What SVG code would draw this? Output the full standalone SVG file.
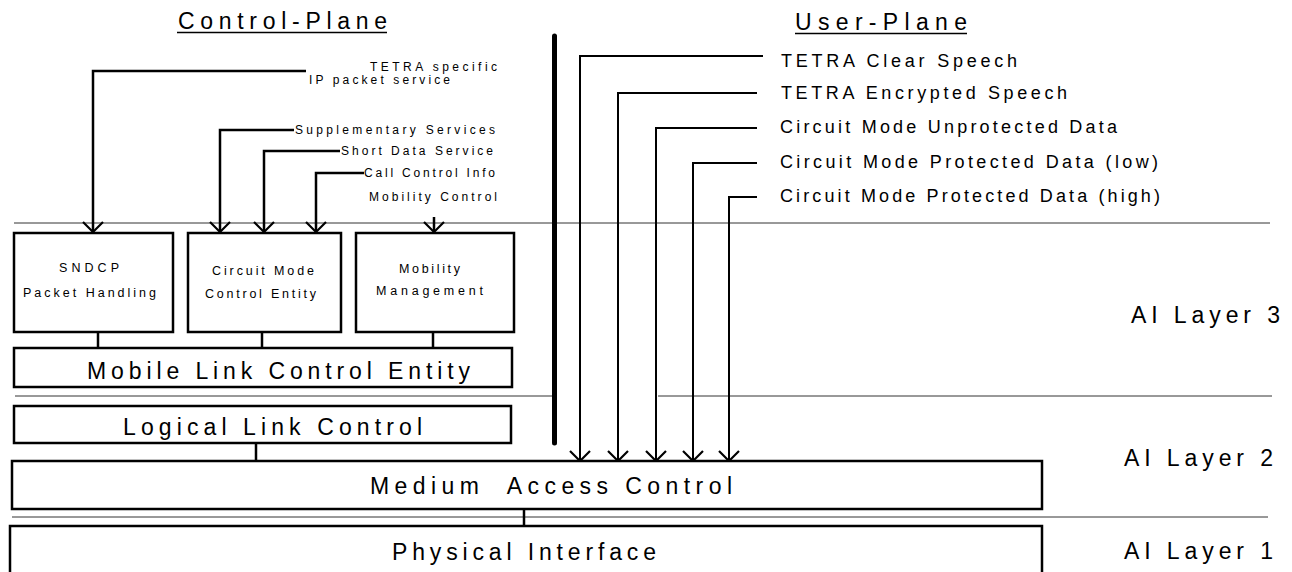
<svg xmlns="http://www.w3.org/2000/svg" width="1292" height="572" viewBox="0 0 1292 572">
<style>
  text { font-family: "Liberation Sans", Arial, sans-serif; fill: #000; }
  .big { font-size: 23px; }
  .mid { font-size: 18px; }
  .sm { font-size: 12px; }
  .bx { font-size: 12.5px; }
  .box { fill: #fff; stroke: #000; stroke-width: 2.5; }
  .layer { stroke: #333; stroke-width: 1; fill: none; }
  .cp { stroke: #000; stroke-width: 2.5; fill: none; }
  .up { stroke: #000; stroke-width: 2; fill: none; }
  .link { stroke: #000; stroke-width: 2.5; fill: none; }
</style>
<defs>
  <marker id="arr" markerUnits="userSpaceOnUse" markerWidth="14" markerHeight="24" viewBox="-12 -12 14 24" refX="0" refY="0" orient="auto">
    <path d="M-10,-10 L0,0 L-10,10" fill="none" stroke="#000" stroke-width="2.2"/>
  </marker>
</defs>
<rect width="1292" height="572" fill="#fff"/>

<g id="layer-lines">
  <line class="layer" x1="14" y1="223" x2="1270" y2="223"/>
  <line class="layer" x1="15" y1="396" x2="553" y2="396"/>
  <line class="layer" x1="658" y1="396" x2="1272" y2="396"/>
  <line class="layer" x1="12" y1="517" x2="1268" y2="517"/>
</g>

<g id="titles">
  <text class="big" x="178" y="29" textLength="209" lengthAdjust="spacing">Control-Plane</text>
  <line x1="177" y1="32.5" x2="387" y2="32.5" stroke="#000" stroke-width="1.5"/>
  <text class="big" x="795" y="30" textLength="172" lengthAdjust="spacing">User-Plane</text>
  <line x1="795" y1="33.5" x2="967" y2="33.5" stroke="#000" stroke-width="1.5"/>
</g>

<g id="plane-divider">
  <line x1="554.5" y1="36" x2="554.5" y2="443" stroke="#000" stroke-width="5" stroke-linecap="round"/>
</g>

<g id="connectors">
  <polyline class="cp" points="306,71 93,71 93,232" marker-end="url(#arr)"/>
  <polyline class="cp" points="294,130 220,130 220,232" marker-end="url(#arr)"/>
  <polyline class="cp" points="340,151 264,151 264,232" marker-end="url(#arr)"/>
  <polyline class="cp" points="364,173 316,173 316,232" marker-end="url(#arr)"/>
  <line class="cp" x1="434" y1="217" x2="434" y2="232" marker-end="url(#arr)"/>

  <polyline class="up" points="763,56 580,56 580,461" marker-end="url(#arr)"/>
  <polyline class="up" points="757,93 618,93 618,461" marker-end="url(#arr)"/>
  <polyline class="up" points="757,128 656,128 656,461" marker-end="url(#arr)"/>
  <polyline class="up" points="757,163 693,163 693,461" marker-end="url(#arr)"/>
  <polyline class="up" points="757,197 729,197 729,461" marker-end="url(#arr)"/>

  <line class="link" x1="98" y1="332" x2="98" y2="348"/>
  <line class="link" x1="262" y1="332" x2="262" y2="348"/>
  <line class="link" x1="433" y1="332" x2="433" y2="348"/>
  <line class="link" x1="256" y1="443" x2="256" y2="461"/>
  <line class="link" x1="524" y1="509" x2="524" y2="526"/>
</g>

<g id="service-labels">
  <text class="sm" x="370" y="71" textLength="127" lengthAdjust="spacing">TETRA specific</text>
  <text class="sm" x="309" y="84" textLength="141" lengthAdjust="spacing">IP packet service</text>
  <text class="sm" x="295" y="134" textLength="200" lengthAdjust="spacing">Supplementary Services</text>
  <text class="sm" x="341" y="155" textLength="152" lengthAdjust="spacing">Short Data Service</text>
  <text class="sm" x="364" y="177" textLength="131" lengthAdjust="spacing">Call Control Info</text>
  <text class="sm" x="369" y="201" textLength="128" lengthAdjust="spacing">Mobility Control</text>

  <text class="mid" x="781" y="67" textLength="236" lengthAdjust="spacing">TETRA Clear Speech</text>
  <text class="mid" x="781" y="99" textLength="286" lengthAdjust="spacing">TETRA Encrypted Speech</text>
  <text class="mid" x="780" y="133" textLength="337" lengthAdjust="spacing">Circuit Mode Unprotected Data</text>
  <text class="mid" x="780" y="168" textLength="378" lengthAdjust="spacing">Circuit Mode Protected Data (low)</text>
  <text class="mid" x="780" y="202" textLength="380" lengthAdjust="spacing">Circuit Mode Protected Data (high)</text>
</g>

<g id="sndcp">
  <rect class="box" x="14" y="233" width="159" height="99"/>
  <text class="bx" x="59" y="272" textLength="60" lengthAdjust="spacing">SNDCP</text>
  <text class="bx" x="23" y="297" textLength="133" lengthAdjust="spacing">Packet Handling</text>
</g>

<g id="cmce">
  <rect class="box" x="188" y="233" width="153" height="99"/>
  <text class="bx" x="212" y="275" textLength="102" lengthAdjust="spacing">Circuit Mode</text>
  <text class="bx" x="205" y="298" textLength="111" lengthAdjust="spacing">Control Entity</text>
</g>

<g id="mm">
  <rect class="box" x="356" y="233" width="158" height="99"/>
  <text class="bx" x="399" y="273" textLength="61" lengthAdjust="spacing">Mobility</text>
  <text class="bx" x="376" y="295" textLength="107" lengthAdjust="spacing">Management</text>
</g>

<g id="mle">
  <rect class="box" x="14" y="348" width="498" height="39"/>
  <text class="big" x="87" y="379" textLength="383" lengthAdjust="spacing">Mobile Link Control Entity</text>
</g>

<g id="llc">
  <rect class="box" x="14" y="406" width="497" height="37"/>
  <text class="big" x="123" y="435" textLength="299" lengthAdjust="spacing">Logical Link Control</text>
</g>

<g id="mac">
  <rect class="box" x="12" y="461" width="1030" height="48"/>
  <text class="big" x="370" y="494" textLength="362" lengthAdjust="spacing" xml:space="preserve">Medium  Access Control</text>
</g>

<g id="phy">
  <rect class="box" x="10" y="526" width="1032" height="60"/>
  <text class="big" x="392" y="560" textLength="264" lengthAdjust="spacing">Physical Interface</text>
</g>

<g id="layer-labels">
  <text class="big" x="1131" y="323" textLength="149" lengthAdjust="spacing">AI Layer 3</text>
  <text class="big" x="1124" y="466" textLength="149" lengthAdjust="spacing">AI Layer 2</text>
  <text class="big" x="1124" y="559" textLength="149" lengthAdjust="spacing">AI Layer 1</text>
</g>
</svg>
